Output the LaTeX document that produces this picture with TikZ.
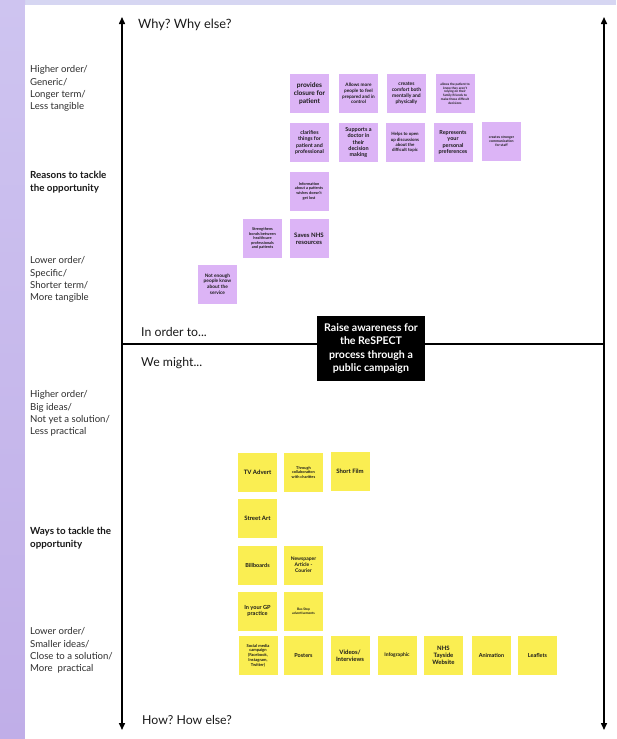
\documentclass[tikz,border=0pt]{standalone}
\usepackage{fontspec}
\setmainfont{Lato}
\usetikzlibrary{arrows.meta}
\frenchspacing
\definecolor{lavtop}{RGB}{206,196,240}
\definecolor{lavbot}{RGB}{192,174,232}
\definecolor{band}{RGB}{214,214,242}
\definecolor{purp}{RGB}{220,180,246}
\definecolor{yel}{RGB}{250,238,82}
\definecolor{ink}{RGB}{25,25,25}
\definecolor{lbl}{RGB}{45,45,45}
\newcommand\fsz[1]{\fontsize{#1pt}{\fpeval{#1*1.18}pt}\selectfont}
\tikzset{
  axisline/.style={line width=1.5pt, draw=black, -{Triangle[length=7pt,width=6pt]}},
  midline/.style={line width=1.3pt, draw=black},
  note/.style={minimum width=39pt, minimum height=39pt, inner sep=0pt, align=center, text=ink},
  pnote/.style={note, fill=purp, font=\bfseries\fsz{#1}},
  pnote/.default=5,
  ynote/.style={note, fill=yel, font=\bfseries\fsz{#1}},
  ynote/.default=5,
  sidelbl/.style={anchor=north west, inner sep=0pt, align=left, text=lbl, font=\fontsize{9.6pt}{12.3pt}\selectfont},
  sidebold/.style={sidelbl, text=ink, font=\bfseries\fontsize{9.8pt}{12.6pt}\selectfont},
  heading/.style={anchor=west, inner sep=0pt, text=ink, font=\frenchspacing\fontsize{12.3pt}{14pt}\selectfont},
  goal/.style={fill=black, text=white, align=center, minimum width=108pt, minimum height=65pt, inner sep=0pt, font=\bfseries\fontsize{10.6pt}{13.3pt}\selectfont}
}
\begin{document}
\begin{tikzpicture}[x=1pt,y=-1pt]
\useasboundingbox (0,0) rectangle (616,739);
% background
\fill[white] (0,0) rectangle (616,739);
\fill[band] (0,0) rectangle (616,5);
\shade[top color=lavtop, bottom color=lavbot] (0,0) rectangle (25,739);
\fill[white] (25,5) rectangle (616,739);

% axes
\coordinate (lt) at (122,17);
\coordinate (lm) at (122,344);
\coordinate (lb) at (122,730);
\coordinate (rt) at (604,17);
\coordinate (rm) at (604,344);
\coordinate (rb) at (604,730);
\draw[axisline] (lm) -- (lt);
\draw[axisline] (lm) -- (lb);
\draw[axisline] (rm) -- (rt);
\draw[axisline] (rm) -- (rb);
\draw[midline] (lm) -- (rm);

\node[goal] (goal) at (371,348.5) {Raise awareness for\\the ReSPECT\\process through a\\public campaign};

% headings
\node[heading, font=\frenchspacing\fontsize{12.8pt}{14pt}\selectfont] (why) at (138,25) {Why? Why else?};
\node[heading] (inorder) at (141,332) {In order to...};
\node[heading] (might) at (141,363) {We might...};
\node[heading] (how) at (142,720) {How? How else?};

% side labels
\node[sidelbl] (l1) at (30,65.5) {Higher order/\\Generic/\\Longer term/\\Less tangible};
\node[sidebold] (l2) at (30,171.5) {Reasons to tackle\\the opportunity};
\node[sidelbl] (l3) at (30,256.5) {Lower order/\\Specific/\\Shorter term/\\More tangible};
\node[sidelbl] (l4) at (30,390.5) {Higher order/\\Big ideas/\\Not yet a solution/\\Less practical};
\node[sidebold] (l5) at (30,527.5) {Ways to tackle the\\opportunity};
\node[sidelbl] (l6) at (30,627.5) {Lower order/\\Smaller ideas/\\Close to a solution/\\More\ \ practical};

% purple notes
\node[pnote=6.6] (p1) at (309.5,93.5) {provides\\closure for\\patient};
\node[pnote=4.7] (p2) at (358.5,93.5) {Allows more\\people to feel\\prepared and in\\control};
\node[pnote=5] (p3) at (406.5,93.5) {creates\\comfort both\\mentally and\\physically};
\node[pnote=3.2] (p4) at (455,93.5) {allows the patient to\\know they aren't\\relying on their\\family/friends to\\make those difficult\\decisions};
\node[pnote=5.3] (p5) at (309.5,142.5) {clarifies\\things for\\patient and\\professional};
\node[pnote=5.5] (p6) at (358.5,142.5) {Supports a\\doctor in\\their\\decision\\making};
\node[pnote=4.4] (p7) at (405,142.5) {Helps to open\\up discussions\\about the\\difficult topic};
\node[pnote=5.5] (p8) at (453,142.5) {Represents\\your\\personal\\preferences};
\node[pnote=3.5] (p9) at (501.5,141.5) {creates stronger\\communication\\for staff};
\node[pnote=3.9] (p10) at (309,191) {Information\\about a patients\\wishes doesn't\\get lost};
\node[pnote=3.9] (p11) at (262.5,238.5) {Strengthens\\bonds between\\healthcare\\professionals\\and patients};
\node[pnote=6.1] (p12) at (309,238.5) {Saves NHS\\resources};
\node[pnote=4.8] (p13) at (217.5,284) {Not enough\\people know\\about the\\service};

% yellow notes
\node[ynote=6] (y1) at (257.5,472.5) {TV Advert};
\node[ynote=3.9] (y2) at (303.5,472.5) {Through\\collaboration\\with charities};
\node[ynote=6] (y3) at (350,471) {Short Film};
\node[ynote=6] (y4) at (257.5,518) {Street Art};
\node[ynote=5.5] (y5) at (257.5,565) {Billboards};
\node[ynote=5] (y6) at (303.5,565) {Newspaper\\Article -\\Courier};
\node[ynote=5.6] (y7) at (257.5,611) {In your GP\\practice};
\node[ynote=3.3] (y8) at (303.5,611) {Bus Stop\\advertisements};
\node[ynote=4.1] (y9) at (258,655.5) {Social media\\campaign\\(Facebook,\\Instagram,\\Twitter)};
\node[ynote=5.5] (y10) at (303.5,655.5) {Posters};
\node[ynote=6] (y11) at (350,655.5) {Videos/\\Interviews};
\node[ynote=5] (y12) at (397,655.5) {Infographic};
\node[ynote=6] (y13) at (443.5,655.5) {NHS\\Tayside\\Website};
\node[ynote=5.5] (y14) at (491.5,655.5) {Animation};
\node[ynote=5.5] (y15) at (537.5,655.5) {Leaflets};
\end{tikzpicture}
\end{document}
